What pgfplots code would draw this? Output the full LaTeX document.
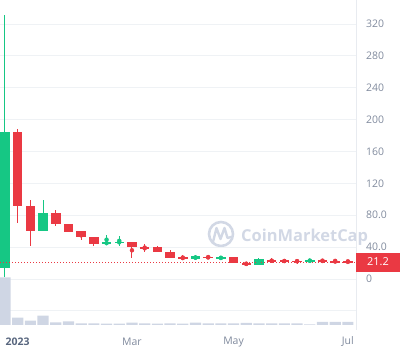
\documentclass[border=0pt]{standalone}
\usepackage{fontspec}
\setmainfont{Open Sans}
\usepackage{pgfplots}
\usepackage{pgfplotstable}
\pgfplotsset{compat=1.18}
\definecolor{cgreen}{RGB}{22,199,132}
\definecolor{cred}{RGB}{234,57,67}
\definecolor{cvol}{RGB}{207,214,228}
\definecolor{cgrid}{RGB}{239,242,245}
\definecolor{cborder}{RGB}{232,235,240}
\definecolor{ctick}{RGB}{128,138,157}
\definecolor{cyear}{RGB}{88,102,126}
\definecolor{cwm}{RGB}{210,216,229}

\pgfplotstableread{
x o h l c
0 13.4 331 2.5 184.8
3 60.2 99 60.2 82.4
8 43.9 55.2 43.5 46
9 45.2 54 41.8 46.8
15 24.7 30 24.2 28.5
17 26 29 23.8 27.2
20 17.8 26 17.8 25.1
24 22.4 25.5 20.5 23.6
}\greendata

\pgfplotstableread{
x o h l c
1 184.8 188 70.6 92
2 91.6 99 41.8 60.6
4 82.4 86.6 66.9 69
5 69 69 59.3 59.3
6 59.8 60.6 48.9 53.1
7 53.1 53.1 41.8 43.5
10 46 46 26 40.6
11 40.2 43.5 33.5 38.6
12 39.8 41.4 33.5 33.5
13 33.5 36 26 26.8
14 27.4 30 23.8 25.1
16 28 30 25.1 26
18 27.2 27.2 20.5 20.5
19 20.5 20.5 17.2 18
21 23.8 26 19.7 22
22 23.8 25.5 19.7 21.3
23 23 25.5 19.3 21.5
25 23.6 25.5 20.5 21.6
26 22.4 24.5 21 21.3
27 21.8 23.3 21 21.2
}\reddata

\pgfplotstableread{
x v
0 47.7
1 7.3
2 4.3
3 9.3
4 2.7
5 3.7
6 1.7
7 1.7
8 1.3
9 1.3
10 2.3
11 1.7
12 1.3
13 1.5
14 1.3
15 2.3
16 1.7
17 1.7
18 1.7
19 2.0
20 1.7
21 1.7
22 1.7
23 1.7
24 0.7
25 3.0
26 3.0
27 3.0
}\voldata

\begin{document}
\begin{tikzpicture}
\path[use as bounding box] (0,0) rectangle (400bp,355bp);
% watermark
\draw[cwm, line width=2.6bp] (221bp,121bp) circle (12bp);
\draw[cwm, line width=2.4bp, line join=round, line cap=round]
  (213bp,113bp) -- (216.5bp,127bp) -- (220.5bp,116bp) -- (224.5bp,127bp) -- (227.5bp,117bp) -- (231bp,118bp);
\node[anchor=base west, inner sep=0pt, text=cwm, font=\fontsize{16.5}{18}\selectfont\bfseries] at (241bp,113.3bp) {CoinMarketCap};

\begin{axis}[
  at={(0,355bp)}, anchor=north west,
  width=356bp, height=330bp, scale only axis,
  xmin=-0.39, xmax=27.64, ymin=-64, ymax=350.1,
  axis line style={draw=none},
  major tick length=0pt,
  ytick={0,40,...,320},
  yticklabels={0,40.0,80.0,120,160,200,240,280,320},
  extra y ticks={-40}, extra y tick labels={},
  ymajorgrids,
  extra y tick style={grid=major},
  grid style={cgrid, line width=0.8bp},
  yticklabel pos=right,
  yticklabel style={anchor=west, inner sep=0pt, xshift=10bp, font=\fontsize{10.5}{12}\selectfont, text=ctick},
  xtick={1,10,18,27},
  xticklabels={\textcolor{cyear}{\bfseries 2023},Mar,May,Jul},
  xticklabel style={anchor=center, yshift=-12bp, font=\fontsize{10.5}{12}\selectfont, text=ctick},
  clip=false,
]
\draw[cborder, line width=0.8bp] (rel axis cs:1,0) -- (rel axis cs:1,1);
% wicks
\addplot[cgreen, only marks, mark=none, forget plot,
  error bars/.cd, y dir=both, y explicit, error mark=none,
  error bar style={line width=1bp, cgreen}]
  table[x=x, y expr={(\thisrow{h}+\thisrow{l})/2}, y error expr={(\thisrow{h}-\thisrow{l})/2}] {\greendata};
\addplot[cred, only marks, mark=none, forget plot,
  error bars/.cd, y dir=both, y explicit, error mark=none,
  error bar style={line width=1bp, cred}]
  table[x=x, y expr={(\thisrow{h}+\thisrow{l})/2}, y error expr={(\thisrow{h}-\thisrow{l})/2}] {\reddata};
% bodies
\addplot[cgreen, only marks, mark=none, forget plot,
  error bars/.cd, y dir=both, y explicit, error mark=none,
  error bar style={line width=9.5bp, cgreen}]
  table[x=x, y expr={(\thisrow{o}+\thisrow{c})/2}, y error expr={max(abs(\thisrow{c}-\thisrow{o})/2,0.65)}] {\greendata};
\addplot[cred, only marks, mark=none, forget plot,
  error bars/.cd, y dir=both, y explicit, error mark=none,
  error bar style={line width=9.5bp, cred}]
  table[x=x, y expr={(\thisrow{o}+\thisrow{c})/2}, y error expr={max(abs(\thisrow{c}-\thisrow{o})/2,0.65)}] {\reddata};
% current price
\addplot[cred, line width=0.8bp, dash pattern=on 1bp off 2bp, mark=none] coordinates {(-0.39,21.2) (27.64,21.2)};
\node[fill=cred, text=white, anchor=west, minimum width=43.5bp, minimum height=19bp, inner sep=0pt,
  font=\fontsize{11}{12}\selectfont] at (axis cs:27.64,21.2) {21.2};
\end{axis}

\begin{axis}[
  at={(0,355bp)}, anchor=north west,
  width=356bp, height=330bp, scale only axis,
  xmin=-0.39, xmax=27.64, ymin=-5, ymax=325,
  hide axis,
]
\addplot[ybar, bar width=11.2bp, bar shift=0pt, fill=cvol, draw=none] table[x=x,y=v] {\voldata};
\end{axis}
\end{tikzpicture}
\end{document}
